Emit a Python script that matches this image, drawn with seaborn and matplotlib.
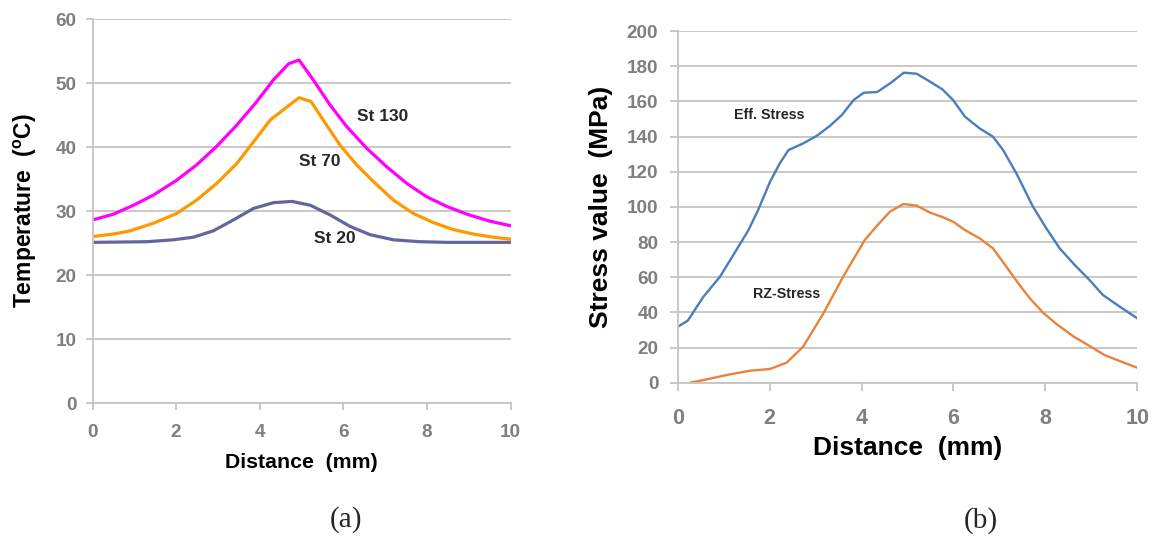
import numpy as np
import pandas as pd
import seaborn as sns
import matplotlib
matplotlib.use("Agg")
import matplotlib.pyplot as plt

# ---------------- Data (a) ----------------
dist_st130 = [0, 0.5, 0.98, 1.46, 2.01, 2.49, 2.97, 3.45, 3.93, 4.33, 4.69, 4.94, 5.28, 5.68, 6.08,
              6.56, 7.04, 7.52, 8.0, 8.48, 8.96, 9.51, 10]
temp_st130 = [28.6, 29.5, 30.9, 32.5, 34.8, 37.2, 40.1, 43.4, 47.1, 50.5, 53.0, 53.6, 50.5, 46.6, 43.2,
              39.8, 36.9, 34.3, 32.2, 30.7, 29.5, 28.4, 27.7]

dist_st70 = [0, 0.5, 0.9, 1.46, 2.01, 2.49, 2.97, 3.45, 3.85, 4.25, 4.64, 4.94, 5.23, 5.52, 5.92,
             6.32, 6.72, 7.2, 7.68, 8.15, 8.63, 9.11, 9.59, 10]
temp_st70 = [26.0, 26.4, 26.9, 28.1, 29.6, 31.7, 34.3, 37.4, 40.8, 44.2, 46.2, 47.7, 47.1, 44.2, 40.3,
             37.2, 34.6, 31.7, 29.6, 28.2, 27.1, 26.4, 25.9, 25.6]

dist_st20 = [0, 1.3, 1.93, 2.41, 2.89, 3.37, 3.85, 4.33, 4.77, 5.21, 5.68, 6.16, 6.64, 7.2, 7.83, 8.48, 10]
temp_st20 = [25.1, 25.2, 25.5, 25.9, 26.9, 28.6, 30.4, 31.3, 31.5, 30.9, 29.4, 27.6, 26.3, 25.5, 25.2, 25.1, 25.1]

# ---------------- Data (b) ----------------
dist_eff = [0, 0.22, 0.56, 0.92, 1.21, 1.54, 1.75, 2.01, 2.22, 2.41, 2.73, 3.02, 3.31, 3.57, 3.83, 4.05,
            4.34, 4.62, 4.92, 5.2, 5.49, 5.76, 5.99, 6.25, 6.57, 6.86, 7.08, 7.37, 7.73, 8.02, 8.31,
            8.64, 8.96, 9.25, 9.62, 10]
stress_eff = [31.8, 35.3, 48.9, 60.3, 72.6, 86.8, 98.2, 114.3, 124.7, 132.3, 136.1, 140.3, 146.0, 152.2, 160.8, 164.9,
              165.3, 170.2, 176.3, 175.7, 171.2, 166.8, 160.8, 151.3, 144.6, 139.9, 132.3, 119.0, 100.1, 87.8, 76.4,
              66.9, 58.4, 49.9, 43.2, 36.6]

dist_rz = [0.27, 0.56, 1.07, 1.57, 2.01, 2.37, 2.73, 3.17, 3.6, 4.07, 4.33, 4.62, 4.91, 5.2, 5.49,
           5.74, 5.99, 6.25, 6.57, 6.86, 7.15, 7.44, 7.66, 7.95, 8.24, 8.6, 8.96, 9.29, 9.62, 10]
stress_rz = [0.0, 1.5, 4.4, 6.8, 7.8, 11.4, 20.5, 39.4, 60.3, 81.1, 89.1, 97.3, 101.6, 100.7, 96.7,
             94.4, 91.6, 86.8, 82.1, 76.4, 66.0, 55.5, 48.0, 39.8, 33.4, 26.5, 20.9, 15.7, 12.3, 8.5]

x_ticks = [0, 2, 4, 6, 8, 10]
yticks_a = [0, 10, 20, 30, 40, 50, 60]
yticks_b = [0, 20, 40, 60, 80, 100, 120, 140, 160, 180, 200]

sns.set_theme(style="white")
plt.rcParams['font.family'] = ['Liberation Sans', 'DejaVu Sans']
plt.rcParams['mathtext.fontset'] = 'custom'
plt.rcParams['mathtext.rm'] = 'Liberation Sans:bold'
plt.rcParams['mathtext.bf'] = 'Liberation Sans:bold'

W, H = 1154, 539
fig = plt.figure(figsize=(W / 100, H / 100), dpi=100)

def rect(l, r, b, t):
    return [l / W, 1 - b / H, (r - l) / W, (b - t) / H]

ax1 = fig.add_axes(rect(92.5, 510.5, 403, 19))
ax2 = fig.add_axes(rect(677.7, 1137.3, 382.7, 31))

grid_c = '#C4C4C4'
tick_c = '#7F7F7F'

def style(ax, yticks, xfs, yfs, xpad, ypad, tl):
    ax.set_facecolor('white')
    for s in ['top', 'right']:
        ax.spines[s].set_visible(False)
    for s in ['left', 'bottom']:
        ax.spines[s].set_color(grid_c)
        ax.spines[s].set_linewidth(1.3)
    ax.yaxis.grid(True, color=grid_c, linewidth=1.3)
    ax.set_axisbelow(True)
    ax.set_xticks(x_ticks)
    ax.set_yticks(yticks)
    ax.set_xlim(0, 10)
    ax.set_ylim(yticks[0], yticks[-1])
    ax.tick_params(axis='both', which='both', direction='out', length=tl, width=1.3, color=grid_c,
                   labelcolor=tick_c, bottom=True, left=True)
    ax.tick_params(axis='x', labelsize=xfs, pad=xpad)
    ax.tick_params(axis='y', labelsize=yfs, pad=ypad)
    for lab in ax.get_xticklabels() + ax.get_yticklabels():
        lab.set_fontweight('bold')

# Panel (a)
sns.lineplot(x=dist_st130, y=temp_st130, ax=ax1, color='#FF00FF', linewidth=2.3, estimator=None, sort=False)
sns.lineplot(x=dist_st70, y=temp_st70, ax=ax1, color='#FF9900', linewidth=2.3, estimator=None, sort=False)
sns.lineplot(x=dist_st20, y=temp_st20, ax=ax1, color='#6464A0', linewidth=2.3, estimator=None, sort=False)
style(ax1, yticks_a, 13.6, 13.6, 10, 6.5, 5)
ax1.set_xlabel('Distance  (mm)', fontsize=15.3, fontweight='bold', color='black', labelpad=9)
ax1.set_ylabel(r'Temperature  ($^{\mathbf{o}}$C)', fontsize=16.5, fontweight='bold', color='black', labelpad=12)
ax1.text(6.94, 44.8, 'St 130', fontsize=12.5, fontweight='bold', ha='center', va='center')
ax1.text(5.43, 37.8, 'St 70', fontsize=12.5, fontweight='bold', ha='center', va='center')
ax1.text(5.8, 25.7, 'St 20', fontsize=12.5, fontweight='bold', ha='center', va='center')

# Panel (b)
sns.lineplot(x=dist_eff, y=stress_eff, ax=ax2, color='#4A7EBB', linewidth=1.7, estimator=None, sort=False)
sns.lineplot(x=dist_rz, y=stress_rz, ax=ax2, color='#E8833A', linewidth=1.7, estimator=None, sort=False)
style(ax2, yticks_b, 15.5, 13.6, 12, 8, 6)
ax2.set_xlabel('Distance  (mm)', fontsize=19, fontweight='bold', color='black', labelpad=5)
ax2.set_ylabel('Stress value  (MPa)', fontsize=19, fontweight='bold', color='black', labelpad=10)
ax2.text(1.99, 152.2, 'Eff. Stress', fontsize=10.3, fontweight='bold', ha='center', va='center')
ax2.text(2.36, 50.4, 'RZ-Stress', fontsize=10.3, fontweight='bold', ha='center', va='center')

fig.text(345.7 / W, 1 - 519.5 / H, '(a)', fontsize=21, family='Liberation Serif', ha='center', va='center')
fig.text(981 / W, 1 - 521 / H, '(b)', fontsize=21, family='Liberation Serif', ha='center', va='center')

fig.savefig('out.png', dpi=100, facecolor='white')
